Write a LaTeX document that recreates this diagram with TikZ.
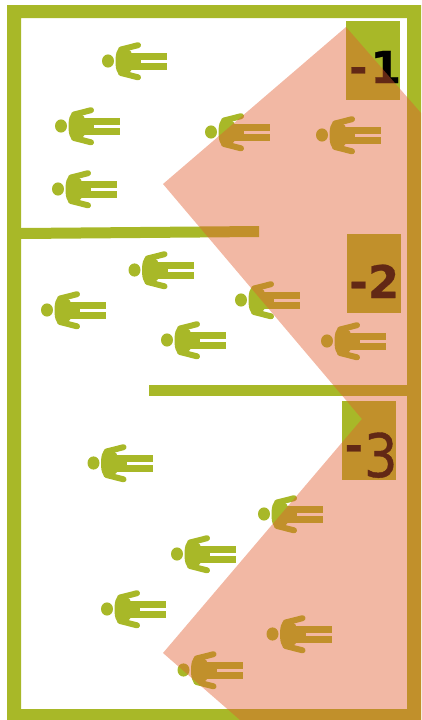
\documentclass[tikz,border=0pt]{standalone}
\usepackage{fontspec}
\setmainfont{DejaVu Sans}
\newfontfamily\labelfont[FakeBold=0.7]{DejaVu Sans}
\newfontfamily\labelbold[FakeBold=0.6]{DejaVu Sans Bold}
\definecolor{wallgreen}{RGB}{168,184,40}
\definecolor{zonered}{RGB}{225,93,48}
\tikzset{
  person/.pic={
    \fill[wallgreen] (0,0) ellipse (6 and 6.6);
    \fill[wallgreen,rounded corners=3.5] (7.5,0.3) -- (8,-9) -- (12,-14.5) -- (24,-10) -- (24,10.5) -- (12,15) -- (8,9.5) -- cycle;
    \fill[wallgreen] (18,-8.3) rectangle (33,9);
    \fill[wallgreen] (33,-8.3) rectangle (59,-1.2);
    \fill[wallgreen] (33,1.9) rectangle (59,9);
    \draw[wallgreen,line width=6,line cap=round] (13,-11.5) -- (30,-15.8);
    \draw[wallgreen,line width=6,line cap=round] (13,12) -- (30,16.3);
  },
  levelbox/.style={fill=wallgreen,minimum width=54,minimum height=79,inner sep=0},
  levellabel/.style={anchor=base west,inner sep=0,text=black}
}
\begin{document}
\begin{tikzpicture}[x=1pt,y=-1pt]
        \useasboundingbox (0,0) rectangle (421,720);

        \fill[wallgreen,even odd rule] (7,5) rectangle (421,720) (21,18) rectangle (407,709);
        \fill[wallgreen] (21,228) -- (259,226) -- (259,237) -- (21,239) -- cycle;
        \fill[wallgreen] (149,385) rectangle (407,396);

        \pic (p1)  at (108,61)  {person};
        \pic (p2)  at (61,126)  {person};
        \pic (p3)  at (58,189)  {person};
        \pic (p4)  at (211,132) {person};
        \pic (p5)  at (322,135) {person};
        \pic (p6)  at (134.5,270) {person};
        \pic (p7)  at (47,310)  {person};
        \pic (p8)  at (241,300) {person};
        \pic (p9)  at (167,340) {person};
        \pic (p10) at (327,341) {person};
        \pic (p11) at (93.5,463) {person};
        \pic (p12) at (264,514) {person};
        \pic (p13) at (177,554) {person};
        \pic (p14) at (107,609) {person};
        \pic (p15) at (272.5,634) {person};
        \pic (p16) at (183.5,670) {person};

        \begin{scope}[every node/.style={levelbox}]
          \node (box1) at (373,60.5)   {};
          \node (box2) at (373.5,273.5) {};
          \node (box3) at (369,440.5)  {};
        \end{scope}

        \begin{scope}[every node/.style={levellabel}]
          \node (label1) at (349,83) {\fontsize{44}{44}\labelbold -\kern3pt 1};
          \node (label2) at (349,298) {\fontsize{45}{45}\labelbold -2};
          \node (label3) at (344.5,477) {\fontsize{44}{44}\labelbold\raisebox{16pt}{-}\fontsize{60}{60}\labelfont\kern1pt\scalebox{.88}[1]{3}};
        \end{scope}

        \fill[zonered,fill opacity=.44] (346,27) -- (163,184) -- (362,419) -- (163,653) -- (240,720) -- (421,720) -- (421,113) -- cycle;

      \end{tikzpicture}
\end{document}
